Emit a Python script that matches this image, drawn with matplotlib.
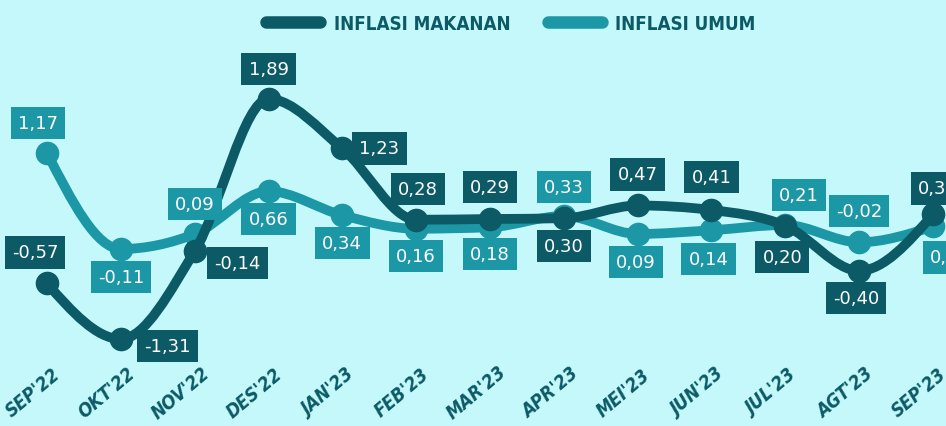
import numpy as np
import matplotlib
matplotlib.use("Agg")
import matplotlib.pyplot as plt
from matplotlib.path import Path
from matplotlib.patches import PathPatch
from matplotlib.lines import Line2D
from matplotlib import font_manager as fm

months = ["SEP'22", "OKT'22", "NOV'22", "DES'22", "JAN'23", "FEB'23", "MAR'23",
          "APR'23", "MEI'23", "JUN'23", "JUL'23", "AGT'23", "SEP'23"]
food = [-0.57, -1.31, -0.14, 1.89, 1.23, 0.28, 0.29, 0.30, 0.47, 0.41, 0.20, -0.40, 0.35]
general = [1.17, -0.11, 0.09, 0.66, 0.34, 0.16, 0.18, 0.33, 0.09, 0.14, 0.21, -0.02, 0.19]

# label offsets in pixels (style, not data)
food_off = [(-12, 31), (47, -7), (43, -12), (0, 30), (37, 0), (2, 31), (0, 32),
            (0, -28), (0, 31), (0, 33), (-3, -31), (-3, -27), (5, 26)]
gen_off = [(-9, 30), (0, -28), (0, 30), (0, -28), (0, -28), (0, -27), (0, -27),
           (0, 29), (-2, -28), (-3, -29), (14, 30), (0, 31), (17, -31)]

BG = "#c4f8fb"
DARK = "#0b5a66"
LIGHT = "#1b97a6"

names = {f.name for f in fm.fontManager.ttflist}
COND = 'Liberation Sans Narrow' if 'Liberation Sans Narrow' in names else 'DejaVu Sans'
plt.rcParams['font.family'] = [COND, 'DejaVu Sans']


def monotone_path(xs, ys):
    xs = np.asarray(xs, float)
    ys = np.asarray(ys, float)
    n = len(xs)
    h = np.diff(xs)
    s = np.diff(ys) / h
    t = np.zeros(n)
    for k in range(1, n - 1):
        s0, s1 = s[k - 1], s[k]
        h0, h1 = h[k - 1], h[k]
        p = (s0 * h1 + s1 * h0) / (h0 + h1)
        t[k] = (np.sign(s0) + np.sign(s1)) * min(abs(s0), abs(s1), 0.5 * abs(p))
    t[0] = (3 * s[0] - t[1]) / 2
    t[-1] = (3 * s[-1] - t[-2]) / 2
    verts = [(xs[0], ys[0])]
    codes = [Path.MOVETO]
    for k in range(n - 1):
        dx = h[k] / 3
        verts += [(xs[k] + dx, ys[k] + dx * t[k]),
                  (xs[k + 1] - dx, ys[k + 1] - dx * t[k + 1]),
                  (xs[k + 1], ys[k + 1])]
        codes += [Path.CURVE4] * 3
    return Path(verts, codes)


fig = plt.figure(figsize=(9.46, 4.27), dpi=100, facecolor=BG)
ax = fig.add_axes([0, 0, 1, 1])
ax.set_facecolor(BG)
ax.set_xlim(-0.637, 12.177)
ax.set_ylim(-2.47, 3.223)
ax.axis('off')

x = np.arange(len(months))

for vals, col, z in [(general, LIGHT, 2), (food, DARK, 3)]:
    ax.add_patch(PathPatch(monotone_path(x, vals), facecolor='none', edgecolor=col,
                           lw=7, capstyle='round', joinstyle='round', zorder=z))
    ax.plot(x, vals, 'o', color=col, ms=16, zorder=z)

for vals, offs, col in [(general, gen_off, LIGHT), (food, food_off, DARK)]:
    for xi, v, (dx, dy) in zip(x, vals, offs):
        ax.annotate(f"{v:.2f}".replace('.', ','), (xi, v), xytext=(dx, dy),
                    textcoords='offset pixels', ha='center', va='center',
                    fontsize=13, color='white', family=['DejaVu Sans'],
                    bbox=dict(boxstyle='square,pad=0.4', fc=col, ec='none'), zorder=5)

for xi, m in zip(x, months):
    ax.annotate(m, (xi, 0), xycoords=('data', 'axes fraction'), xytext=(-14, 34),
                textcoords='offset pixels', ha='center', va='center', rotation=40,
                fontsize=13.5, fontweight='bold', fontstyle='italic', fontstretch='condensed',
                color=DARK)

handles = [Line2D([], [], color=DARK, lw=9, solid_capstyle='round'),
           Line2D([], [], color=LIGHT, lw=9, solid_capstyle='round')]
leg = ax.legend(handles, ["INFLASI MAKANAN", "INFLASI UMUM"], loc='center',
                bbox_to_anchor=(0.54, 1 - 24 / 427), ncol=2, frameon=False,
                handlelength=2.9, handletextpad=0.7, columnspacing=2.0,
                prop={'size': 13.5, 'weight': 'bold', 'stretch': 'condensed'})
for t in leg.get_texts():
    t.set_color(DARK)

fig.savefig("out.png", dpi=100, facecolor=BG)
